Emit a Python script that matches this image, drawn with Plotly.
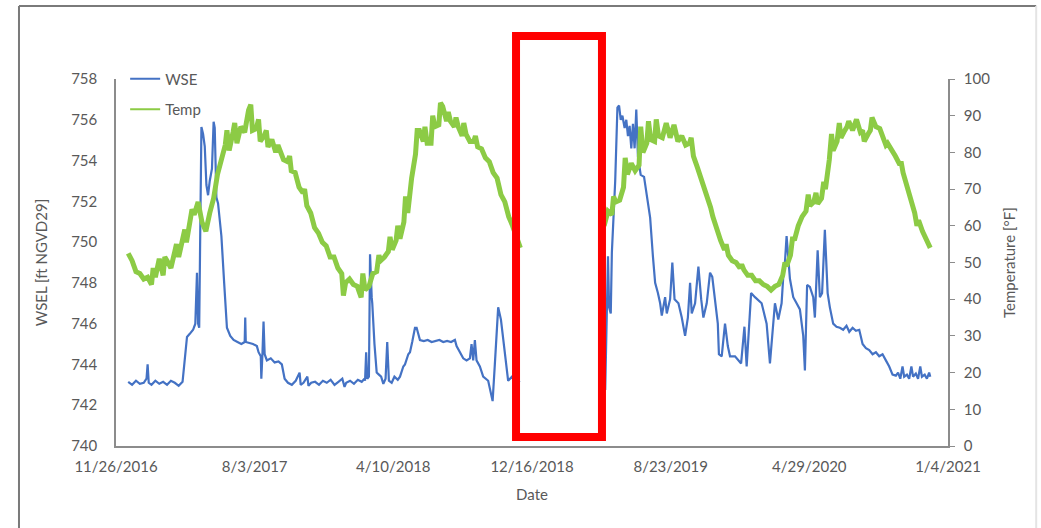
import pandas as pd
import plotly.graph_objects as go

START = "2016-11-26"   # first date on the x axis
x_end = "2021-01-04"
x_tick_step_days = 250

# ---- Temperature (°F, right axis): days since 11/26/2016 and values ----
temp_day = [22, 29, 36, 43, 50, 57, 64, 71, 78, 85, 92, 99, 106, 113, 120, 127,
            134, 141, 148, 155, 162, 169, 176, 183, 190, 197, 204, 211, 218, 225,
            232, 239, 246, 253, 260, 267, 274, 281, 288, 295, 302, 309, 316, 323,
            330, 337, 344, 351, 358, 365, 372, 379, 386, 393, 400, 407, 414, 421,
            428, 435, 442, 449, 456, 463, 470, 477, 484, 491, 498, 505, 512, 519,
            526, 533, 540, 547, 554, 561, 568, 575, 582, 589, 596, 603, 610, 617,
            624, 631, 638, 645, 652, 659, 666, 673, 680, 687, 694, 701, 708, 715,
            722, 729,
            880, 887, 894, 901, 908, 915, 922, 929, 936, 943, 950, 957, 964, 971,
            978, 985, 992, 999, 1006, 1013, 1020, 1027, 1034, 1041, 1048, 1055,
            1062, 1069, 1076, 1083, 1090, 1097, 1104, 1111, 1118, 1125, 1132, 1139,
            1146, 1153, 1160, 1167, 1174, 1181, 1188, 1195, 1202, 1209, 1216, 1223,
            1230, 1237, 1244, 1251, 1258, 1265, 1272, 1279, 1286, 1293, 1300, 1307,
            1314, 1321, 1328, 1335, 1342, 1349, 1356, 1363, 1370, 1377, 1384, 1391,
            1398, 1405, 1412, 1419, 1426, 1433, 1440, 1447, 1454, 1461, 1468]
temp_f = [52.5, 50.5, 47.5, 47, 45.5, 46, 44, 46, 51, 46.5, 50.5, 48.5, 53, 51.5, 56.5, 55.5,
          62, 63, 66.5, 61, 58.5, 63.5, 67.5, 74, 77.5, 82, 80.5, 85.5, 82.5, 87,
          85.5, 91.5, 86, 86.5, 83, 84.5, 81.5, 83.5, 80, 81, 78, 77.5, 75, 74.5,
          70.5, 69, 65.5, 63.5, 59.5, 58, 55.5, 54.5, 51.5, 51.5, 48.5, 47, 44.5, 45.5,
          44, 43.5, 40.5, 42.5, 43.5, 47, 47.5, 50.5, 51.5, 53, 53.5, 56, 56.5, 61,
          63.5, 73, 79.5, 86, 83, 82.5, 82.5, 87, 87.5, 92.5, 88.5, 88.5, 87, 87,
          84.5, 85, 83, 83, 81.5, 81, 78.5, 77.5, 74.5, 73, 68.5, 66.5, 62.5, 60,
          56.5, 54,
          60, 64, 63, 66.5, 67, 70.5, 74, 77, 75, 76.5, 80, 82.5, 83.5, 83,
          84.5, 84, 88, 84, 87.5, 83, 84.5, 82, 82.5, 79, 76, 73,
          69, 66, 62.5, 59, 56, 53.5, 52, 50.5, 50, 48.5, 48, 46.5,
          46.5, 45, 45, 44, 43.5, 42.5, 43.5, 44, 46.5, 49, 52, 56,
          60, 62.5, 64, 65.5, 66.5, 66, 67.5, 70, 78, 80.5, 83, 84,
          86, 88.5, 86, 89, 85.5, 83, 85, 89.5, 87, 86.5, 84, 82.5,
          81, 79, 77, 74.5, 71, 67, 63.5, 61.5, 58.5, 56.5, 54]
# short-lived temperature spikes read between the weekly readings
temp_spike_day = [67, 88, 109, 124, 137, 200, 214, 236, 243, 257, 271, 292, 313, 340,
                  410, 445, 474, 494, 508, 522, 543, 557, 571, 585, 599, 613, 627,
                  648, 662, 690,
                  897, 918, 946, 960, 974, 989, 1003, 1037, 1072, 1100, 1128, 1206,
                  1220, 1248, 1262, 1276, 1290, 1304, 1318, 1346, 1360, 1388, 1416, 1444]
temp_spike_f = [48.5, 51.5, 55, 59, 64.5, 86, 88, 90, 93, 89, 86, 82, 79, 70,
                41, 47, 52, 57, 60, 68, 86, 87, 90, 93.5, 91, 89.5, 88,
                84.5, 80, 71,
                68, 78.5, 87, 88.5, 89, 87, 86, 84, 65, 55, 49.5, 50,
                57, 68.5, 69, 72, 85, 88, 87, 86, 86, 82, 77, 60]

# ---- Water surface elevation (ft NGVD29, left axis) ----
wse_day = [22, 29, 36, 43, 50, 55, 57, 59, 64, 71, 78, 85, 92, 99, 106, 113, 120,
           128, 133, 139, 143, 146, 148, 150, 154, 157, 160, 163, 166, 169, 173,
           176, 178, 181, 184, 190, 195, 200, 206, 212, 219, 226, 232, 233, 234,
           240, 247, 254, 257, 261, 262, 264, 266, 268, 272, 279, 286, 293, 299,
           304, 310, 317, 324, 331, 333, 338, 345, 347, 352, 359, 366, 373, 380,
           387, 394, 401, 408, 412, 415, 422, 429, 436, 443, 448, 449, 451, 453,
           456, 458, 461, 462, 466, 470, 474, 478, 482, 486, 489, 492, 497, 502,
           508, 512, 518, 521, 527, 530, 534, 539, 542, 548, 555, 562, 569, 576,
           583, 590, 597, 604, 611, 614, 620, 626, 632, 638, 641, 644, 647, 650,
           656, 662, 671, 679, 683, 689, 694, 698, 703, 707, 714, 721, 728,
           882, 887, 889, 892, 894, 900, 904, 907, 910, 913, 917, 920, 923, 926,
           929, 932, 935, 938, 941, 946, 952, 958, 963, 968, 972, 977, 981, 984,
           990, 993, 999, 1003, 1007, 1014, 1020, 1026, 1031, 1035, 1038, 1044,
           1050, 1055, 1059, 1065, 1071, 1075, 1080, 1085, 1087, 1092, 1098, 1103,
           1107, 1116, 1127, 1131, 1133, 1137, 1145, 1152, 1164, 1173, 1179, 1188,
           1194, 1200, 1203, 1206, 1209, 1215, 1221, 1227, 1233, 1239, 1242, 1246,
           1251, 1257, 1260, 1265, 1269, 1273, 1278, 1283, 1287, 1293, 1299, 1305,
           1311, 1317, 1322, 1328, 1334, 1340, 1346, 1352, 1358, 1364, 1370, 1376,
           1382, 1388, 1394, 1400, 1406, 1410, 1414, 1418, 1421, 1426, 1430, 1434,
           1437, 1442, 1446, 1450, 1453, 1458, 1462, 1466, 1468]
wse_ft = [743.15, 743.0, 743.2, 743.05, 743.1, 743.3, 744.0, 743.1, 743.0, 743.2, 743.05,
          743.15, 743.0, 743.2, 743.1, 742.95, 743.15,
          745.35, 745.5, 745.7, 746.0, 748.5, 746.0, 745.8, 755.65, 755.3, 754.7, 752.8,
          752.3, 753.0, 753.6, 755.9, 755.6, 752.2, 751.9, 750.3, 748.0, 745.8, 745.4,
          745.2, 745.1, 745.0, 745.1, 746.3, 745.1, 745.05, 745.0, 744.9, 744.6, 744.4,
          743.3, 744.5, 746.1, 744.5, 744.2, 744.3, 744.1, 744.15, 744.0, 743.3, 743.1,
          743.0, 743.2, 743.6, 743.0, 743.1, 743.4, 742.95, 743.1, 743.15, 743.0, 743.2,
          743.1, 743.25, 743.0, 743.15, 743.3, 742.9, 743.1, 743.2, 743.05, 743.25, 743.15,
          743.3, 743.2, 744.6, 743.3, 743.4, 749.4, 747.3, 747.0, 745.0, 743.6, 743.5,
          743.4, 743.05, 743.3, 745.1, 743.2, 743.1, 743.4, 743.25, 743.4, 743.9, 744.0,
          744.5, 744.6, 745.1, 745.8, 745.8, 745.2, 745.15, 745.2, 745.1, 745.15, 745.2,
          745.1, 745.15, 745.1, 745.2, 744.9, 744.6, 744.3, 744.2, 744.3, 745.0, 744.2,
          745.2, 744.2, 743.9, 743.4, 743.2, 742.2, 744.0, 746.8, 746.2, 745.35, 744.0,
          743.2, 743.4, 743.05, 743.2,
          742.75, 749.3, 746.8, 746.5, 749.5, 753.0, 756.6, 756.7, 756.0, 756.2, 755.6,
          756.0, 755.2, 755.7, 754.6, 755.8, 754.6, 756.5, 754.2, 753.3, 753.2, 752.2,
          751.2, 749.3, 748.0, 747.5, 747.0, 746.4, 747.3, 746.5, 747.2, 749.0, 747.2,
          747.0, 746.3, 745.4, 746.3, 748.0, 746.5, 747.0, 748.8, 747.2, 746.3, 747.0,
          748.5, 748.3, 747.0, 746.0, 744.5, 744.4, 746.0, 744.9, 744.4, 744.4, 744.05,
          745.4, 745.85, 743.9, 747.5, 747.3, 747.0, 746.0, 744.05, 747.0, 746.2, 747.0,
          748.3, 749.0, 750.3, 748.2, 747.3, 747.0, 746.7, 745.4, 743.7, 747.9, 747.8,
          747.3, 746.3, 749.6, 747.3, 747.5, 750.6, 747.5, 746.8, 746.0, 745.85, 745.8,
          745.7, 745.9, 745.6, 745.8, 745.65, 745.7, 745.0, 744.8, 744.7, 744.5, 744.6,
          744.4, 744.5, 744.2, 743.9, 743.5, 743.45, 743.6, 743.3, 743.9, 743.4, 743.5,
          743.3, 743.9, 743.4, 743.55, 743.3, 743.9, 743.4, 743.5, 743.3, 743.6, 743.4]

# logger outage: no records between these two days
gap_after_day, gap_before_day = 730, 879


def series(days, vals):
    """Sort readings by day, convert to dates and break the line at the outage."""
    base = pd.Timestamp(START)
    xs, ys = [], []
    inserted = False
    for d, v in sorted(zip(days, vals)):
        if not inserted and d > gap_after_day:
            xs.append(None)
            ys.append(None)
            inserted = True
        xs.append(base + pd.Timedelta(days=d))
        ys.append(v)
    return xs, ys


wse_x, wse_y = series(wse_day, wse_ft)
temp_x, temp_y = series(temp_day + temp_spike_day, temp_f + temp_spike_f)

FONT = "Lato"
TXT = "#595959"
AX = "#8c8c8c"
BLUE = "#4472c4"
GREEN = "#8ccb45"

fig = go.Figure()
fig.add_trace(go.Scatter(x=wse_x, y=wse_y, name="WSE", mode="lines",
                         line=dict(color=BLUE, width=2.2), connectgaps=False,
                         showlegend=False))
fig.add_trace(go.Scatter(x=temp_x, y=temp_y, name="Temp", mode="lines",
                         line=dict(color=GREEN, width=5), connectgaps=False,
                         yaxis="y2", showlegend=False))
# legend entries (thin line samples as in the original)
fig.add_trace(go.Scatter(x=[None], y=[None], name="WSE", mode="lines",
                         line=dict(color=BLUE, width=2), legendgroup="a"))
fig.add_trace(go.Scatter(x=[None], y=[None], name="Temp", mode="lines",
                         line=dict(color=GREEN, width=2), legendgroup="b", yaxis="y2"))

fig.update_layout(
    width=1041, height=528,
    margin=dict(l=116, r=93, t=79, b=82),
    paper_bgcolor="white", plot_bgcolor="white",
    font=dict(family=FONT, size=15, color=TXT),
    showlegend=True,
    legend=dict(x=0.011, y=1.045, xanchor="left", yanchor="top",
                bgcolor="rgba(0,0,0,0)", font=dict(size=15, color=TXT),
                tracegroupgap=8, itemwidth=30, traceorder="grouped"),
    xaxis=dict(type="date", range=[START, x_end], tick0=START,
               dtick=x_tick_step_days * 86400000, tickformat="%-m/%-d/%Y",
               showline=True, linecolor=AX, linewidth=1.5, ticks="",
               showgrid=False, zeroline=False, ticklabelstandoff=6,
               title=dict(text="Date", standoff=16, font=dict(size=15, color=TXT))),
    yaxis=dict(range=[740, 758], dtick=2, showline=True, linecolor=AX, linewidth=1.5,
               ticks="", showgrid=False, zeroline=False, ticklabelstandoff=14,
               title=dict(text="WSEL [ft NGVD29]", standoff=20,
                          font=dict(size=15, color=TXT))),
    yaxis2=dict(range=[0, 100], dtick=10, overlaying="y", side="right", showline=True,
                linecolor=AX, linewidth=1.5, ticks="outside", ticklen=5, tickcolor=AX,
                showgrid=False, zeroline=False, ticklabelstandoff=6,
                title=dict(text="Temperature [°F]", standoff=15,
                           font=dict(size=15, color=TXT))),
)

# outer frame of the pasted figure
frame = [(-0.1166, 1.199, 1.106, 1.199, "#7a7a7a"),
         (-0.1166, 1.199, -0.1166, -0.23, "#7a7a7a"),
         (1.106, 1.199, 1.106, -0.23, "#e4e4e4")]
for x0, y0, x1, y1, c in frame:
    fig.add_shape(type="line", xref="paper", yref="paper", x0=x0, y0=y0, x1=x1, y1=y1,
                  line=dict(color=c, width=2))

# red highlight box over the data gap
fig.add_shape(type="rect", xref="paper", yref="paper", x0=0.4808, x1=0.5841,
              y0=0.0245, y1=1.117, line=dict(color="#ff0000", width=8),
              fillcolor="rgba(0,0,0,0)")

fig.write_html("out.html")
